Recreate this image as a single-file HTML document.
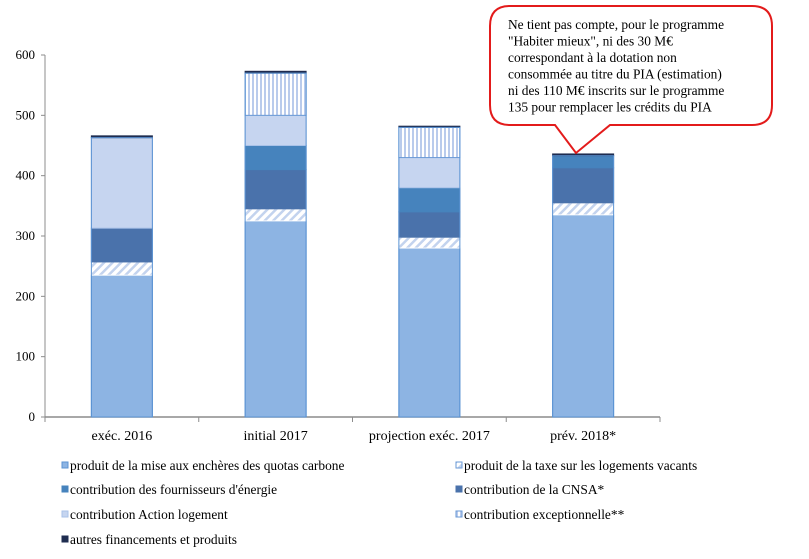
<!DOCTYPE html>
<html><head><meta charset="utf-8">
<style>
body{margin:0;background:#fff;}
svg text{font-family:"Liberation Serif",serif;}
</style></head>
<body>
<svg id="chart" width="809" height="554" xmlns="http://www.w3.org/2000/svg">
<defs>
<pattern id="diag" patternUnits="userSpaceOnUse" width="6" height="6" patternTransform="rotate(45)">
<rect width="6" height="6" fill="#fff"/><rect width="2.5" height="6" fill="#c3d3ee"/></pattern>
<pattern id="vert" patternUnits="userSpaceOnUse" width="4" height="4">
<rect width="4" height="4" fill="#fff"/><rect width="2" height="4" fill="#b9cbec"/></pattern>
</defs>
<g id="axes"></g><g id="bars"></g><g id="legend"></g>
<g>
<path d="M510,6 H752 Q772,6 772,26 V105 Q772,125 752,125 H610 L576,153 L555,125 H510 Q490,125 490,105 V26 Q490,6 510,6 Z" fill="#fff" stroke="#e31b1b" stroke-width="2"/>
<text x="508" y="29" font-size="13.4" fill="#000">
<tspan x="508" y="29">Ne tient pas compte, pour le programme</tspan>
<tspan x="508" y="45.5">"Habiter mieux", ni des 30 M€</tspan>
<tspan x="508" y="62">correspondant à la dotation non</tspan>
<tspan x="508" y="78.5">consommée  au titre du PIA (estimation)</tspan>
<tspan x="508" y="95">ni des 110  M€ inscrits sur le programme</tspan>
<tspan x="508" y="111.5">135 pour remplacer  les crédits du PIA</tspan>
</text></g>
</svg>
<script>
const categories=["exéc. 2016","initial 2017","projection exéc. 2017","prév. 2018*"];
const seriesNames=["produit de la mise aux enchères des quotas carbone","produit de la taxe sur les logements vacants","contribution de la CNSA*","contribution des fournisseurs d'énergie","contribution Action logement","contribution exceptionnelle**","autres financements et produits"];
const carbone=[235,325,280,335];
const taxeVacants=[22,20,18,20];
const cnsa=[56,65,42,58];
const fournisseurs=[0,40,40,20];
const actionLogement=[150,50,50,0];
const exceptionnelle=[0,70,50,0];
const autres=[3,3,2,3];
const yTicks=[0,100,200,300,400,500,600];

const NS="http://www.w3.org/2000/svg";
const x0=45,x1=660,y0=417,yTop=55,yMax=600;
const bw=(x1-x0)/categories.length;
const y=v=>y0-(v/yMax)*(y0-yTop);
const xc=i=>x0+bw*(i+0.5);
function mk(t,a,p){const e=document.createElementNS(NS,t);for(const k in a)e.setAttribute(k,a[k]);p.appendChild(e);return e;}
const axes=document.getElementById('axes');
const ya=mk('line',{x1:x0,x2:x0,y1:yTop,y2:y0,stroke:'#8c8c8c'},axes);


yTicks.forEach(t=>{
 mk('line',{x1:x0-4,x2:x0,y1:y(t),y2:y(t),stroke:'#8c8c8c'},axes);
 const tx=mk('text',{x:x0-10,y:y(t)+4,'text-anchor':'end','font-size':'13'},axes);
 tx.textContent=t;
 
 
});
const xa=mk('line',{x1:x0,x2:x1,y1:y0,y2:y0,stroke:'#8c8c8c','stroke-width':1.5},axes);


for(let i=0;i<=categories.length;i++)mk('line',{x1:x0+bw*i,x2:x0+bw*i,y1:y0,y2:y0+5,stroke:'#8c8c8c'},axes);
categories.forEach((c,i)=>{
 const tx=mk('text',{x:xc(i),y:440,'text-anchor':'middle','font-size':'14'},axes);
 tx.textContent=c;
 
 
});
const series=[carbone,taxeVacants,cnsa,fournisseurs,actionLogement,exceptionnelle,autres];
const fills=['#8db4e3','url(#diag)','#4a72ab','#4683bd','#c6d5f0','url(#vert)','#1f2d50'];
const strokes=['#5b93d3','#fff','#4a72ab','#4683bd','#a9c2e8','#6a9ad6','#1f2d50'];
const bars=document.getElementById('bars');
categories.forEach((c,i)=>{
 let acc=0;
 series.forEach((s,k)=>{
  const v=s[i]; if(!v)return;
  const r=mk('rect',{x:xc(i)-30.5,y:y(acc+v),width:61,height:y(acc)-y(acc+v),fill:fills[k],stroke:strokes[k],'stroke-width':1},bars);
  
  
  acc+=v;
 });
 mk('rect',{x:xc(i)-30.5,y:y(acc-autres[i]),width:61,height:y(0)-y(acc-autres[i]),fill:'none',stroke:'#5b93d3','stroke-width':1},bars);
});
const legendOrder=[[0,62,466],[1,456,466],[3,62,490],[2,456,490],[4,62,515],[5,456,515],[6,62,540]];
const lg=document.getElementById('legend');
legendOrder.forEach(([k,lx,ly])=>{
 const g=mk('g',{},lg);
 
 
 mk('rect',{x:lx,y:ly-4,width:6,height:6,fill:fills[k],stroke:k==1||k==5?'#6a9ad6':strokes[k]},g);
 const t=mk('text',{x:lx+8,y:ly+4,'font-size':'13.4'},g);
 t.textContent=seriesNames[k];
});
</script>
</body></html>
